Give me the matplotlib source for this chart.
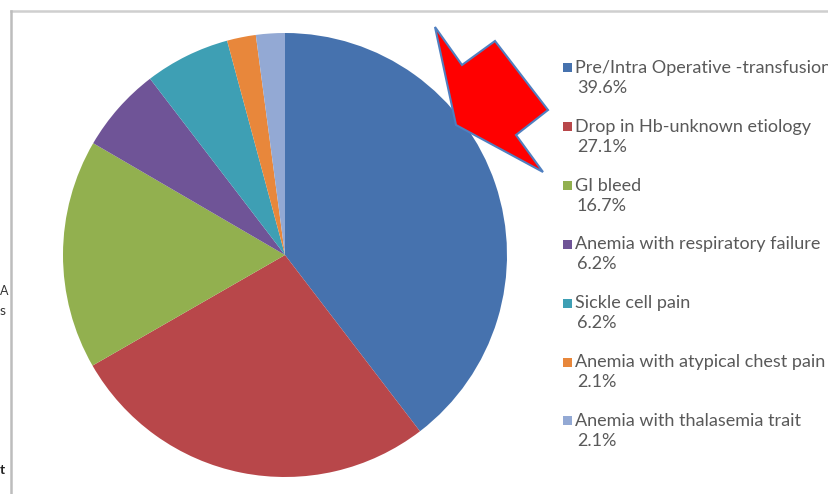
import numpy as np
import matplotlib.pyplot as plt
from matplotlib.patches import Polygon, Rectangle

# transfusion indications, share of cases (%)
categories = ['Pre/Intra Operative -transfusion', 'Drop in Hb-unknown etiology', 'GI bleed',
              'Anemia with respiratory failure', 'Sickle cell pain',
              'Anemia with atypical chest pain', 'Anemia with thalasemia trait']
shares = [39.6, 27.1, 16.7, 6.2, 6.2, 2.1, 2.1]
pct_labels = ['39.6%', '27.1%', '16.7%', '6.2%', '6.2%', '2.1%', '2.1%']
colors = ['#4672ae', '#b8474a', '#92b04f', '#6f5497', '#3e9fb4', '#e8873b', '#93a9d4']

W, H = 829, 494
fig = plt.figure(figsize=(W / 100, H / 100), dpi=100)
fig.patch.set_facecolor('white')

# pie, centre (285,255) px, radius 222 px
cx, cy, r = 285, 255, 222
axp = fig.add_axes([(cx - r) / W, (H - cy - r) / H, 2 * r / W, 2 * r / H])
axp.pie(shares, colors=colors, startangle=90, counterclock=False,
        wedgeprops=dict(linewidth=0))
axp.set_xlim(-1, 1)
axp.set_ylim(-1, 1)
axp.set_aspect('equal')
axp.axis('off')

# overlay in pixel coords for frame, arrow and legend
ax = fig.add_axes([0, 0, 1, 1], zorder=3)
ax.set_xlim(0, W)
ax.set_ylim(H, 0)
ax.axis('off')
ax.patch.set_alpha(0)

ax.plot([11, W], [11, 11], color='#cfcfcf', lw=1.8)
ax.plot([11, 11], [11, H], color='#bdbdbd', lw=1.8)

# bits of neighbouring text at the left margin
ax.text(0, 291, 'A', ha='left', va='center', fontsize=9, color='#333333', family='Lato')
ax.text(0, 311, 's', ha='left', va='center', fontsize=10, color='#333333', family='Lato')
ax.text(0, 470, 't', ha='left', va='center', fontsize=10, color='#222222',
        family='Lato', fontweight='bold')

arrow = [(435, 27), (462, 65), (495, 41), (548, 110), (516, 135), (543, 172), (456, 125)]
ax.add_patch(Polygon(arrow, closed=True, facecolor='#ff0000', edgecolor='#4f7fc0', lw=1.5))

# legend
y0, step = 68, 58.8
for i, (lab, pct, c) in enumerate(zip(categories, pct_labels, colors)):
    y = y0 + i * step
    ax.add_patch(Rectangle((563, y - 4.5), 9, 9, facecolor=c, edgecolor='none'))
    ax.text(575, y, lab, va='center', ha='left', fontsize=13, color='#595959', family='Lato')
    ax.text(577, y + 20, pct, va='center', ha='left', fontsize=13, color='#595959', family='Lato')

fig.savefig('out.png', dpi=100)
